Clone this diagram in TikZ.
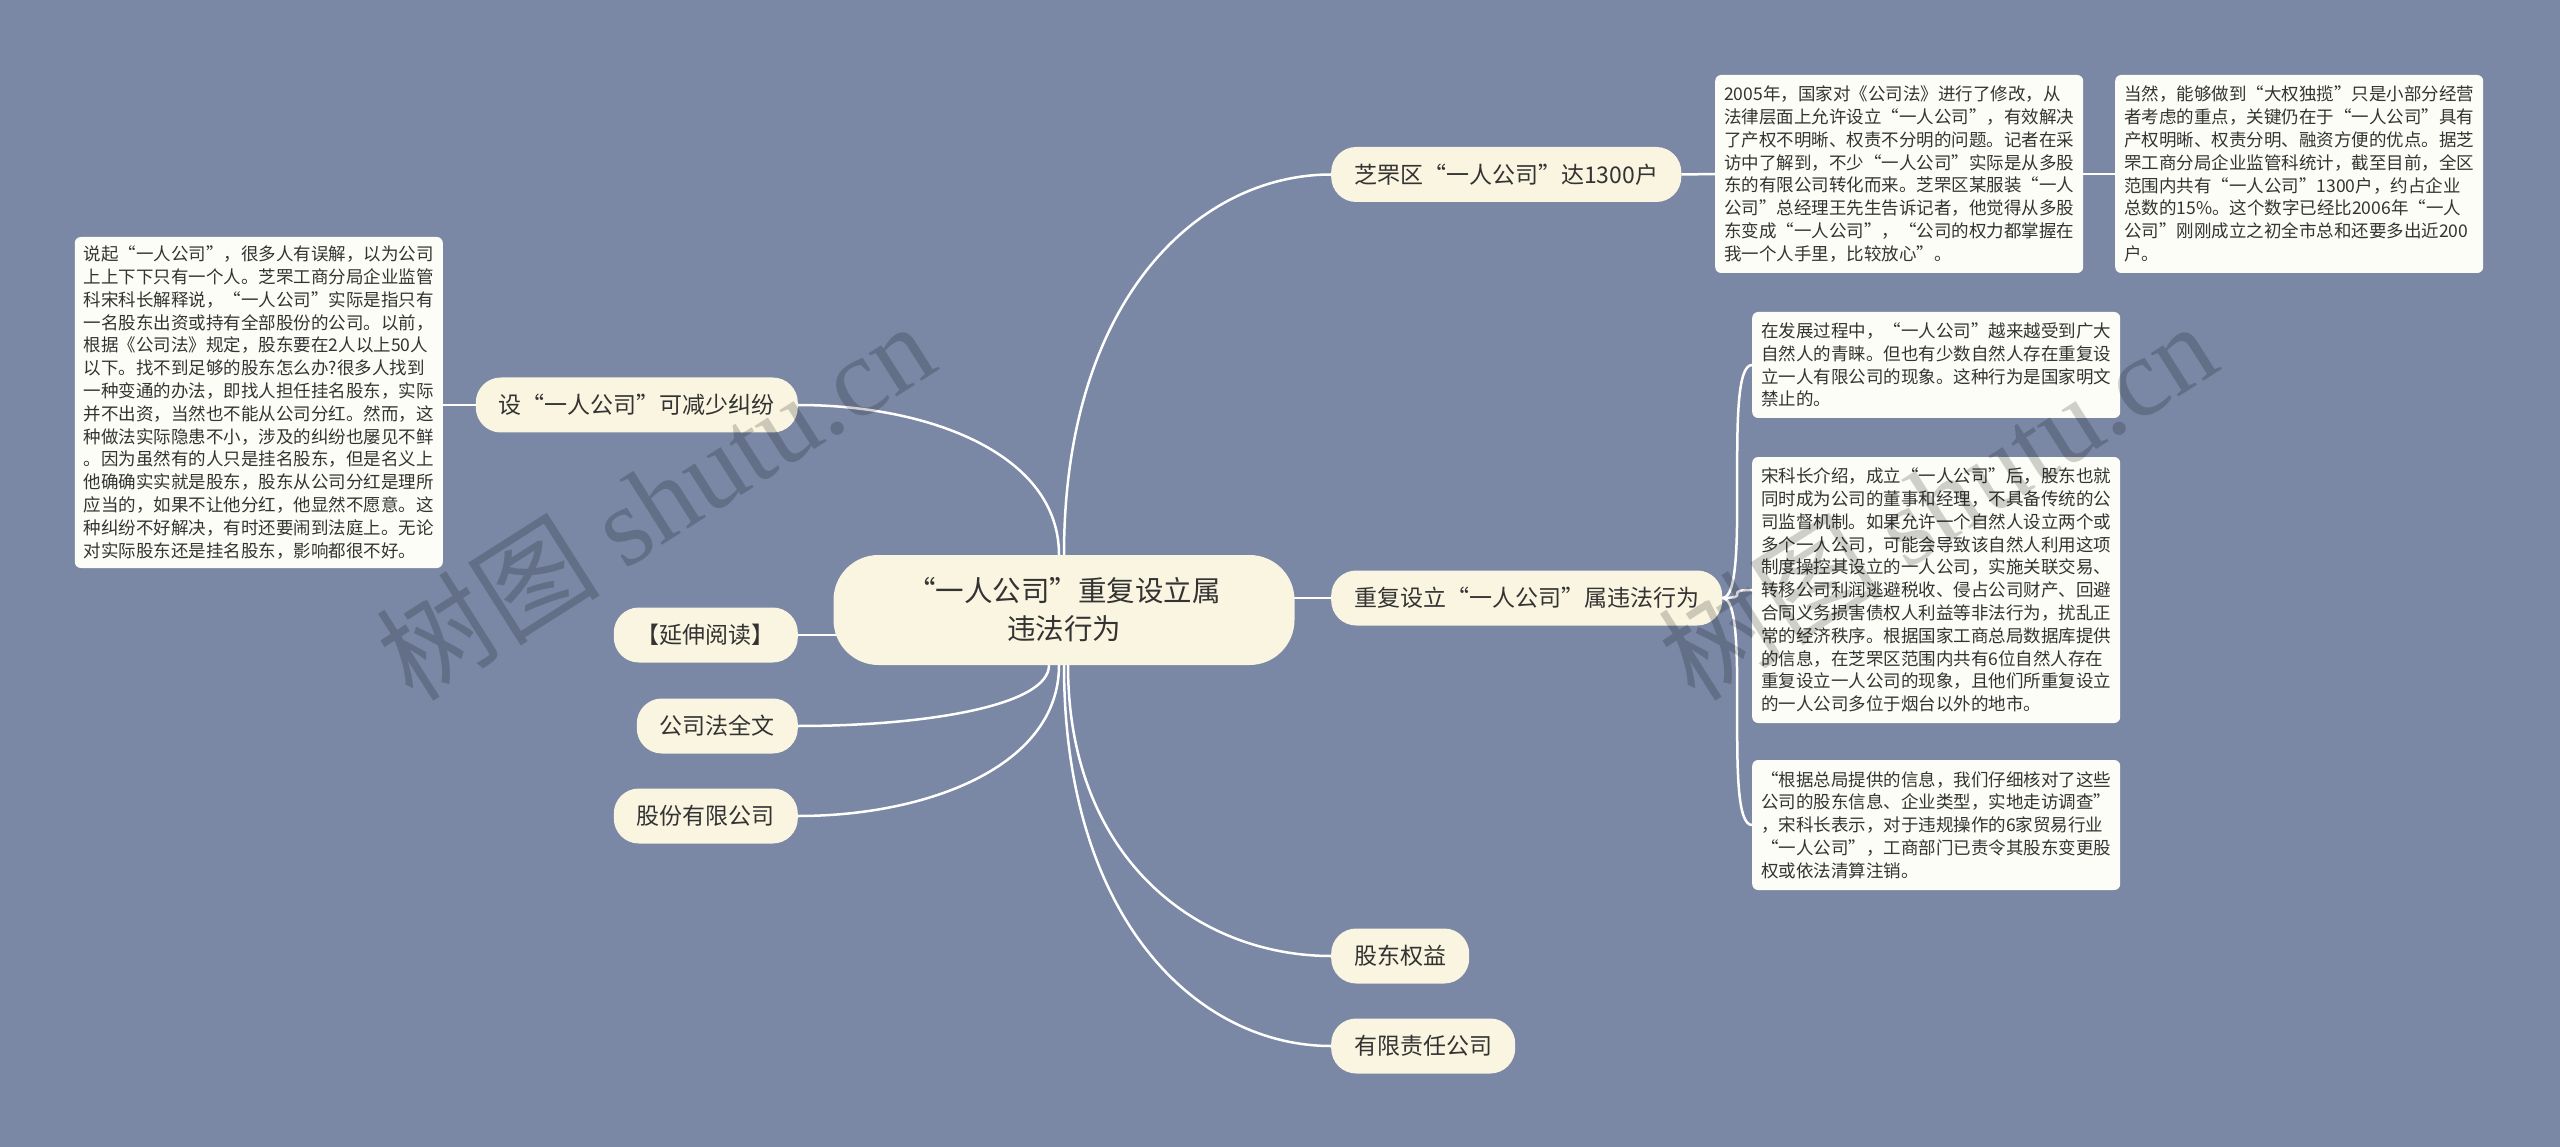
\documentclass[tikz,border=0pt]{standalone}
\usepackage{fontspec}
\setmainfont{Noto Sans CJK SC}
\newfontfamily\wmserif{Liberation Serif}
\usetikzlibrary{calc}
\definecolor{bgc}{RGB}{122,135,165}
\definecolor{cream}{RGB}{250,245,224}
\definecolor{paper}{RGB}{253,253,247}
\definecolor{ink}{RGB}{51,51,51}
\pgfdeclarelayer{bgzero}
\pgfdeclarelayer{background}
\pgfdeclarelayer{fore}
\pgfsetlayers{bgzero,background,main,fore}
\begin{document}
\begin{tikzpicture}[x=1pt,y=-1pt,
  conn/.style={draw=white,line width=2.5pt},
  root/.style={fill=cream,rounded corners=45pt,minimum width=461pt,minimum height=110pt,align=center,text=ink,font=\fontsize{28.5}{38}\selectfont,inner sep=0pt},
  branch/.style={fill=cream,rounded corners=25pt,minimum height=55pt,inner xsep=23pt,inner ysep=0pt,text=ink,font=\fontsize{23}{28}\selectfont},
  note/.style={fill=paper,rounded corners=6pt,text width=350pt,inner xsep=9pt,inner ysep=0pt,align=left,text=ink,font=\fontsize{17.5}{22.8}\selectfont},
  wm/.style={text=black,text opacity=0.18,font=\fontsize{112}{120}\selectfont}]
\useasboundingbox (0,0) rectangle (2560,1147);
\begin{pgfonlayer}{bgzero}
\fill[bgc] (0,0) rectangle (2560,1147);
\end{pgfonlayer}

\node[root] (c) at (1064,610) {“一人公司”重复设立属\\违法行为};

\node[branch,anchor=west] (b1) at (1331,174.5) {芝罘区“一人公司”达1300户};
\node[branch,anchor=west] (b2) at (1331,598) {重复设立“一人公司”属违法行为};
\node[branch,anchor=west] (b3) at (1331,956) {股东权益};
\node[branch,anchor=west] (b4) at (1331,1046) {有限责任公司};

\node[branch,anchor=east] (l1) at (798,405) {设“一人公司”可减少纠纷};
\node[branch,anchor=east] (l2) at (798,635) {【延伸阅读】};
\node[branch,anchor=east] (l3) at (798,726) {公司法全文};
\node[branch,anchor=east] (l4) at (798,816) {股份有限公司};

\node[note,minimum height=331pt,anchor=east] (t0) at (443,402.5) {说起“一人公司”，很多人有误解，以为公司\\上上下下只有一个人。芝罘工商分局企业监管\\科宋科长解释说，“一人公司”实际是指只有\\一名股东出资或持有全部股份的公司。以前，\\根据《公司法》规定，股东要在2人以上50人\\以下。找不到足够的股东怎么办?很多人找到\\一种变通的办法，即找人担任挂名股东，实际\\并不出资，当然也不能从公司分红。然而，这\\种做法实际隐患不小，涉及的纠纷也屡见不鲜\\。因为虽然有的人只是挂名股东，但是名义上\\他确确实实就是股东，股东从公司分红是理所\\应当的，如果不让他分红，他显然不愿意。这\\种纠纷不好解决，有时还要闹到法庭上。无论\\对实际股东还是挂名股东，影响都很不好。};

\node[note,minimum height=198pt,anchor=west] (t1) at (1715,174) {2005年，国家对《公司法》进行了修改，从\\法律层面上允许设立“一人公司”，有效解决\\了产权不明晰、权责不分明的问题。记者在采\\访中了解到，不少“一人公司”实际是从多股\\东的有限公司转化而来。芝罘区某服装“一人\\公司”总经理王先生告诉记者，他觉得从多股\\东变成“一人公司”，“公司的权力都掌握在\\我一个人手里，比较放心”。};

\node[note,minimum height=198pt,anchor=west] (t2) at (2115,174) {当然，能够做到“大权独揽”只是小部分经营\\者考虑的重点，关键仍在于“一人公司”具有\\产权明晰、权责分明、融资方便的优点。据芝\\罘工商分局企业监管科统计，截至目前，全区\\范围内共有“一人公司”1300户，约占企业\\总数的15\%。这个数字已经比2006年“一人\\公司”刚刚成立之初全市总和还要多出近200\\户。};

\node[note,minimum height=106pt,anchor=west] (t3) at (1752,365) {在发展过程中，“一人公司”越来越受到广大\\自然人的青睐。但也有少数自然人存在重复设\\立一人有限公司的现象。这种行为是国家明文\\禁止的。};

\node[note,minimum height=266pt,anchor=west] (t4) at (1752,590) {宋科长介绍，成立“一人公司”后，股东也就\\同时成为公司的董事和经理，不具备传统的公\\司监督机制。如果允许一个自然人设立两个或\\多个一人公司，可能会导致该自然人利用这项\\制度操控其设立的一人公司，实施关联交易、\\转移公司利润逃避税收、侵占公司财产、回避\\合同义务损害债权人利益等非法行为，扰乱正\\常的经济秩序。根据国家工商总局数据库提供\\的信息，在芝罘区范围内共有6位自然人存在\\重复设立一人公司的现象，且他们所重复设立\\的一人公司多位于烟台以外的地市。};

\node[note,minimum height=130pt,anchor=west] (t5) at (1752,825) {“根据总局提供的信息，我们仔细核对了这些\\公司的股东信息、企业类型，实地走访调查”\\，宋科长表示，对于违规操作的6家贸易行业\\“一人公司”，工商部门已责令其股东变更股\\权或依法清算注销。};

\begin{pgfonlayer}{background}
\draw[conn] (c.north) .. controls +(0,-255) and +(-133,0) .. (b1.west);
\draw[conn] (c.center |- b2.west) -- (b2.west);
\draw[conn] ($(c.south)+(4,0)$) .. controls +(0,195) and +(-132,0) .. (b3.west);
\draw[conn] (c.south) .. controls +(0,255) and +(-133,0) .. (b4.west);
\draw[conn] ($(c.north)+(-5,0)$) .. controls +(0,-100) and +(133,0) .. (l1.east);
\draw[conn] (c.center |- l2.east) -- (l2.east);
\draw[conn] ($(c.south)+(-15,0)$) .. controls +(0,41) and +(125,0) .. (l3.east);
\draw[conn] ($(c.south)+(-5,0)$) .. controls +(0,101) and +(130,0) .. (l4.east);
\draw[conn] (l1.west) -- (l1.west -| t0.east);
\draw[conn] (b1.east) -- (t1.west);
\draw[conn] (t1.east) -- (t2.west);
\draw[conn] (b2.east) .. controls +(30,0) and +(-30,0) .. (t3.west);
\draw[conn] (b2.east) .. controls +(30,0) and +(-30,0) .. (t4.west);
\draw[conn] (b2.east) .. controls +(30,0) and +(-30,0) .. (t5.west);
\end{pgfonlayer}

\begin{pgfonlayer}{fore}
\node[wm,rotate=32.4] (w1) at (655,500) {树图 {\wmserif shutu.cn}};
\node[wm,rotate=32.4] (w2) at (1937,500) {树图 {\wmserif shutu.cn}};
\end{pgfonlayer}
\end{tikzpicture}
\end{document}
